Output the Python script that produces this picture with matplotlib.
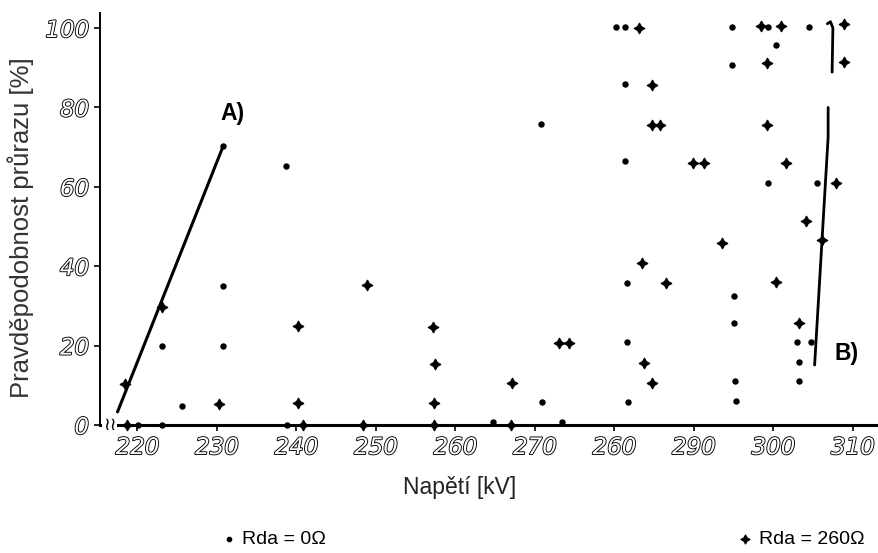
import matplotlib
matplotlib.use('Agg')
import matplotlib.pyplot as plt
import matplotlib.patheffects as pe

# --- data ---
# Rda = 0 ohm (dots)
dot_x = [230.8, 238.7, 223.1, 225.6, 230.8, 230.8, 223.1, 220.1, 238.8, 264.7,
         270.9, 273.4, 270.8, 280.2, 281.3, 281.4, 281.3, 294.8, 294.8, 299.3,
         300.3, 299.3, 304.5, 305.5, 281.6, 295.0, 295.0, 303.0, 303.2, 303.2,
         281.6, 281.7, 295.2, 295.3, 304.8]
dot_y = [70.3, 65.2, 19.9, 4.8, 19.9, 35.0, 0.0, 0.0, 0.0, 0.8,
         5.8, 0.8, 75.8, 100.3, 100.3, 85.9, 66.5, 100.3, 90.7, 100.3,
         95.7, 61.0, 100.3, 61.0, 35.8, 32.5, 25.7, 20.9, 15.9, 11.1,
         20.9, 5.8, 11.1, 6.0, 20.9]

# Rda = 260 ohm (stars)
star_x = [218.4, 223.1, 230.3, 240.2, 240.2, 240.8, 248.9, 248.4, 257.2, 257.3,
          257.3, 257.5, 267.0, 267.1, 273.0, 274.3, 283.1, 284.7, 284.7, 285.8,
          289.9, 291.3, 293.5, 298.5, 301.0, 299.2, 299.2, 301.6, 308.9, 308.9,
          307.9, 304.1, 306.1, 283.5, 286.5, 300.4, 303.2, 283.7, 284.8, 218.7]
star_y = [10.3, 29.7, 5.3, 5.5, 25.0, 0.0, 35.3, 0.0, 24.7, 5.5,
          0.0, 15.3, 0.0, 10.6, 20.7, 20.7, 100.0, 85.6, 75.6, 75.6,
          66.0, 66.0, 45.8, 100.5, 100.5, 91.2, 75.6, 66.0, 101.0, 91.4,
          61.0, 51.4, 46.6, 40.8, 35.8, 36.0, 25.7, 15.6, 10.6, 0.0]

# hand-drawn lines A) and B)
lineA_x = [217.5, 230.8]
lineA_y = [3.3, 70.3]
lineB_low_x = [305.2, 306.9, 306.9]
lineB_low_y = [15.1, 72.5, 80.0]
lineB_up_x = [307.4, 307.5, 307.2, 306.8]
lineB_up_y = [88.9, 100.0, 101.6, 101.1]

xticks = [220, 230, 240, 250, 260, 270, 280, 290, 300, 310]
xtick_labels = ['220', '230', '240', '250', '260', '270', '260', '290', '300', '310']
yticks = [0, 20, 40, 60, 80, 100]

fig = plt.figure(figsize=(8.79, 5.53), dpi=100)
ax = fig.add_axes([0.1138, 0.2315, 0.8862, 0.745])

ax.plot(lineA_x, lineA_y, color='black', lw=2.2, solid_capstyle='round')
ax.plot(lineB_low_x, lineB_low_y, color='black', lw=2.0, solid_capstyle='round')
ax.plot(lineB_up_x, lineB_up_y, color='black', lw=2.0, solid_capstyle='round')

dots = ax.scatter(dot_x, dot_y, s=13, color='black', marker='o',
                  clip_on=False, zorder=3, label='Rda = 0Ω')
stars = ax.scatter(star_x, star_y, s=55, color='black', marker=(4, 1, 0),
                   clip_on=False, zorder=3, label='Rda = 260Ω')

ax.set_xlim(215.3, 313.3)
ax.set_ylim(0, 103.8)

for s in ['top', 'right']:
    ax.spines[s].set_visible(False)
ax.spines['bottom'].set_linewidth(2.2)
ax.spines['left'].set_linewidth(1.4)

ax.set_xticks(xticks)
ax.set_xticklabels(xtick_labels)
ax.set_yticks(yticks)
ax.tick_params(axis='both', direction='out', length=4, width=1.2, pad=4)

outline = [pe.withStroke(linewidth=1.3, foreground='black')]
for lab in ax.get_xticklabels() + ax.get_yticklabels():
    lab.set_fontsize(16.5)
    lab.set_fontstyle('italic')
    lab.set_color('white')
    lab.set_path_effects(outline)

# axis break symbol
ax.text(216.5, 0, '≀≀', ha='center', va='center', fontsize=13,
        family='DejaVu Sans', bbox=dict(facecolor='white', edgecolor='none', pad=0.5),
        clip_on=False, zorder=4)

ax.text(232.0, 78.6, 'A)', ha='center', va='center', fontsize=16.5,
        family='Liberation Sans', weight='bold')
ax.text(309.2, 18.1, 'B)', ha='center', va='center', fontsize=16.5,
        family='Liberation Sans', weight='bold')

fig.text(0.523, 0.119, 'Napětí [kV]', ha='center', va='center',
         fontsize=16.5, family='Liberation Sans', color='#222222')
fig.text(0.0235, 0.588, 'Pravděpodobnost průrazu [%]', ha='center', va='center',
         rotation=90, fontsize=18.5, family='Liberation Sans', color='#333333')

# legend below the axes, two separate entries
leg_font = {'family': 'Liberation Sans', 'size': 14}
leg1 = fig.legend(handles=[dots], loc='center left', bbox_to_anchor=(0.229, 0.025),
                  frameon=False, handletextpad=0.2, handlelength=1.0,
                  markerscale=0.85, prop=leg_font)
leg2 = fig.legend(handles=[stars], loc='center left', bbox_to_anchor=(0.817, 0.025),
                  frameon=False, handletextpad=0.2, handlelength=1.0,
                  markerscale=0.85, prop=leg_font)

fig.savefig('out.png', dpi=100)
